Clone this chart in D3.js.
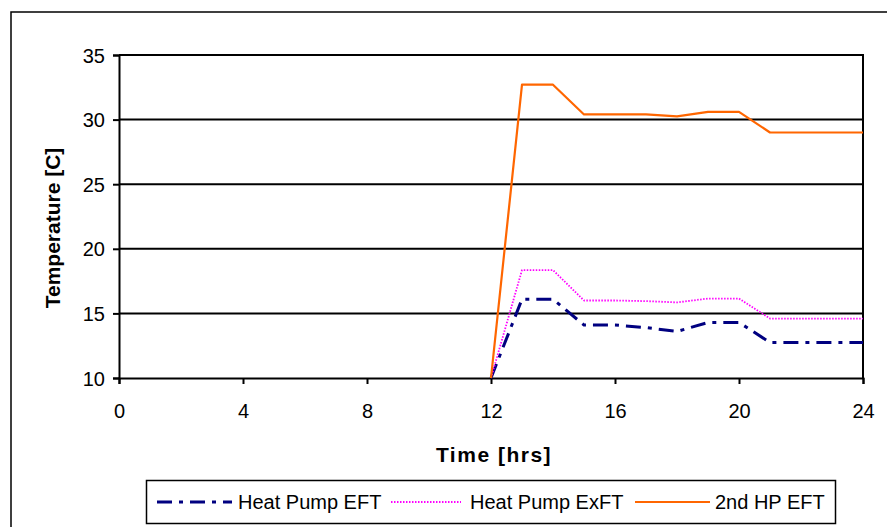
<!DOCTYPE html>
<html><head><meta charset="utf-8">
<script src="https://cdn.jsdelivr.net/npm/d3@7"></script>
<style>body{margin:0;background:#fff} svg{display:block}</style>
</head><body>
<svg id="c" width="887" height="527"></svg>
<script>
const hours = [12,13,14,15,16,17,18,19,20,21,22,23,24];
const heatPumpEFT = [10,16.1,16.1,14.1,14.1,13.9,13.6,14.3,14.3,12.75,12.75,12.75,12.75];
const heatPumpExFT = [10,18.35,18.35,16.0,16.0,15.95,15.85,16.15,16.15,14.6,14.6,14.6,14.6];
const secondHpEFT = [10,32.7,32.7,30.4,30.4,30.4,30.25,30.6,30.6,29.0,29.0,29.0,29.0];
const xTicks = [0,4,8,12,16,20,24];
const yTicks = [10,15,20,25,30,35];
const seriesNames = ["Heat Pump EFT","Heat Pump ExFT","2nd HP EFT"];
const xTitle = "Time [hrs]";
const yTitle = "Temperature [C]";

const svg = d3.select("#c");
const FONT = "'Liberation Sans', Arial, sans-serif";
const L = 119, R = 863, T = 55, B = 378;
const x = d3.scaleLinear().domain([0,24]).range([L,R]);
const y = d3.scaleLinear().domain([10,35]).range([B,T]);

// outer frame
svg.append("rect").attr("x",11).attr("y",12).attr("width",900).attr("height",560)
  .attr("fill","#fff").attr("stroke","#000").attr("stroke-width",1.5);

// gridlines
svg.append("g").selectAll("line").data(yTicks.filter(d=>d>10)).join("line")
  .attr("x1",L).attr("x2",R).attr("y1",d=>y(d)).attr("y2",d=>y(d))
  .attr("stroke","#000").attr("stroke-width",2);
// right border
svg.append("line").attr("x1",R).attr("x2",R).attr("y1",T-1).attr("y2",B)
  .attr("stroke","#000").attr("stroke-width",2);

// axes
const ya = svg.append("g").attr("transform",`translate(${L},0)`)
  .call(d3.axisLeft(y).tickValues(yTicks).tickSize(6).tickPadding(8).tickFormat(d3.format("d")));
const xa = svg.append("g").attr("transform",`translate(0,${B})`)
  .call(d3.axisBottom(x).tickValues(xTicks).tickSize(6).tickPadding(8).tickFormat(d3.format("d")));
[ya,xa].forEach(g=>{
  g.select(".domain").attr("stroke","#000").attr("stroke-width",2);
  g.selectAll(".tick line").attr("stroke","#000").attr("stroke-width",2);
  g.selectAll("text").attr("font-family",FONT).attr("font-size",20).attr("fill","#000");
});
ya.selectAll("text").attr("dy","0.35em");
xa.selectAll("text").attr("y",33).attr("dy","0.35em");

// titles
svg.append("text").attr("x",494).attr("y",462).attr("text-anchor","middle")
  .attr("font-family",FONT).attr("font-size",21).attr("font-weight","bold")
  .attr("letter-spacing","1.5px").text(xTitle);
svg.append("text").attr("transform","translate(60,228) rotate(-90)").attr("text-anchor","middle")
  .attr("font-family",FONT).attr("font-size",21).attr("font-weight","bold").text(yTitle);

// series
const styles = [
  {data:heatPumpEFT, color:"#000080", w:3, dash:"15,7,4,7"},
  {data:heatPumpExFT, color:"#FF00FF", w:1.8, dash:"1.5,1.5"},
  {data:secondHpEFT, color:"#FF6600", w:2.2, dash:null}
];
const line = d3.line().x((d,i)=>x(hours[i])).y(d=>y(d));
styles.forEach(s=>{
  svg.append("path").attr("d",line(s.data)).attr("fill","none")
    .attr("stroke",s.color).attr("stroke-width",s.w)
    .attr("stroke-dasharray",s.dash).attr("stroke-linejoin","round");
});

// legend
svg.append("rect").attr("x",146.5).attr("y",480.5).attr("width",689).attr("height",43)
  .attr("fill","#fff").attr("stroke","#000").attr("stroke-width",1.5);
const legPos = [{x1:157,x2:232,tx:238},{x1:391,x2:461,tx:470},{x1:635,x2:710,tx:715}];
styles.forEach((s,i)=>{
  const p = legPos[i];
  svg.append("line").attr("x1",p.x1).attr("x2",p.x2).attr("y1",502).attr("y2",502)
    .attr("stroke",s.color).attr("stroke-width",s.w).attr("stroke-dasharray",s.dash);
  svg.append("text").attr("x",p.tx).attr("y",502).attr("dy","0.35em")
    .attr("font-family",FONT).attr("font-size",20).text(seriesNames[i]);
});
</script>
</body></html>
